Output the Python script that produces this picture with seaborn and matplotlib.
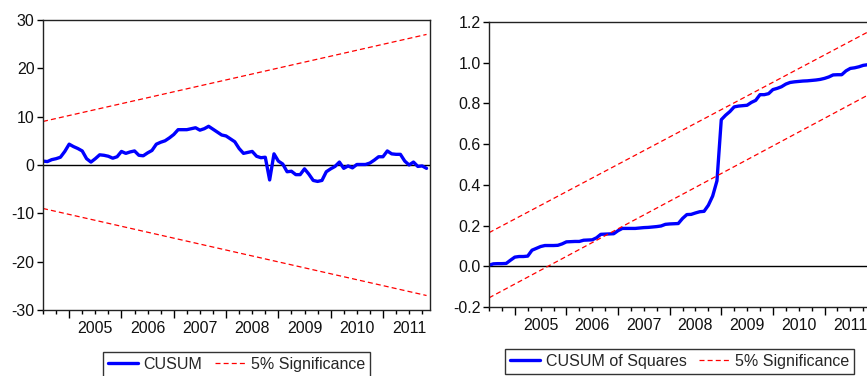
import numpy as np
import pandas as pd
import seaborn as sns
import matplotlib.pyplot as plt
from matplotlib.ticker import MultipleLocator, FuncFormatter, NullFormatter

# monthly observations, 2004M07 .. 2011M11
dates = pd.date_range('2004-07-01', periods=89, freq='MS')

cusum = [0.8, 0.7, 1.1, 1.3, 1.6, 2.8, 4.3, 3.8, 3.4, 2.9,
         1.3, 0.6, 1.3, 2.1, 2.0, 1.8, 1.4, 1.7, 2.8, 2.4,
         2.7, 2.9, 2.0, 1.9, 2.5, 3.0, 4.3, 4.7, 5.0, 5.6,
         6.3, 7.3, 7.3, 7.3, 7.5, 7.7, 7.2, 7.5, 8.0, 7.4,
         6.8, 6.2, 6.0, 5.4, 4.8, 3.4, 2.4, 2.6, 2.8, 1.8,
         1.5, 1.6, -3.1, 2.3, 0.8, 0.2, -1.4, -1.3, -2.0, -2.0,
         -0.8, -1.9, -3.2, -3.4, -3.2, -1.4, -0.8, -0.3, 0.6, -0.7,
         -0.2, -0.6, 0.1, 0.1, 0.1, 0.4, 1.0, 1.7, 1.7, 2.9,
         2.3, 2.2, 2.2, 0.8, 0.0, 0.6, -0.3, -0.2, -0.7]

cusumsq = [0.005, 0.012, 0.013, 0.013, 0.014, 0.030, 0.045, 0.048, 0.048, 0.050,
           0.079, 0.088, 0.097, 0.102, 0.102, 0.102, 0.103, 0.110, 0.120, 0.121,
           0.122, 0.122, 0.128, 0.129, 0.130, 0.140, 0.157, 0.158, 0.159, 0.160,
           0.175, 0.186, 0.186, 0.186, 0.186, 0.188, 0.190, 0.191, 0.193, 0.195,
           0.198, 0.206, 0.208, 0.209, 0.210, 0.235, 0.254, 0.255, 0.262, 0.268,
           0.270, 0.300, 0.345, 0.420, 0.720, 0.742, 0.760, 0.783, 0.787, 0.789,
           0.791, 0.805, 0.815, 0.843, 0.843, 0.848, 0.868, 0.874, 0.882, 0.895,
           0.903, 0.906, 0.908, 0.910, 0.911, 0.913, 0.915, 0.918, 0.923, 0.930,
           0.940, 0.941, 0.941, 0.960, 0.972, 0.975, 0.980, 0.987, 0.990]

# 5% bands: values at first and last observation
cusum_upper = [9.0, 27.0]
cusum_lower = [-9.0, -27.0]
sq_upper = [0.165, 1.15]
sq_lower = [-0.155, 0.84]

sns.set_theme(style="ticks")
plt.rcParams['font.family'] = ['Liberation Sans', 'DejaVu Sans']
plt.rcParams['axes.unicode_minus'] = False

x = dates.year + (dates.month - 1) / 12.0
x_ends = [x[0], x[-1]]

fig = plt.figure(figsize=(8.67, 3.76), dpi=100)
ax1 = fig.add_axes([0.0496, 0.1755, 0.4464, 0.7715])
ax2 = fig.add_axes([0.564, 0.1835, 0.437, 0.758])

FS = 11.5
sig_kw = dict(color='red', lw=0.9, dashes=(4, 2.5))


def year_label(v, pos, start):
    if abs((v % 1) - 0.5) < 1e-6 and v > start + 0.01:
        return str(int(v))
    return ''


def style_axis(ax, start, end):
    ax.set_xlim(start, end)
    ax.xaxis.set_major_locator(MultipleLocator(1.0))
    ax.xaxis.set_major_formatter(NullFormatter())
    ax.xaxis.set_minor_locator(MultipleLocator(0.25))
    ax.xaxis.set_minor_formatter(FuncFormatter(lambda v, p: year_label(v, p, start)))
    ax.tick_params(axis='x', which='major', length=6, width=1, color='black', direction='out')
    ax.tick_params(axis='x', which='minor', length=3, width=1, color='black', direction='out',
                   labelsize=FS, pad=5, labelcolor='#111111')
    ax.tick_params(axis='y', length=4, width=1, color='black', direction='out',
                   labelsize=FS, pad=2, labelcolor='#111111')
    for s in ax.spines.values():
        s.set_color('#222222')
        s.set_linewidth(1)
    ax.set_xlabel('')
    ax.set_ylabel('')


# left: CUSUM
ax1.axhline(0, color='black', lw=1, zorder=1)
sns.lineplot(x=x, y=cusum, ax=ax1, color='#0000ff', lw=2.4, label='CUSUM')
sns.lineplot(x=x_ends, y=cusum_upper, ax=ax1, label='5% Significance', **sig_kw)
sns.lineplot(x=x_ends, y=cusum_lower, ax=ax1, **sig_kw)
ax1.set_ylim(-30, 30)
ax1.set_yticks([-30, -20, -10, 0, 10, 20, 30])
style_axis(ax1, 2004.5, 2011.9)

# right: CUSUM of squares
ax2.axhline(0, color='black', lw=1, zorder=1)
sns.lineplot(x=x, y=cusumsq, ax=ax2, color='#0000ff', lw=2.4, label='CUSUM of Squares')
sns.lineplot(x=x_ends, y=sq_upper, ax=ax2, label='5% Significance', **sig_kw)
sns.lineplot(x=x_ends, y=sq_lower, ax=ax2, **sig_kw)
ax2.set_ylim(-0.2, 1.2)
ax2.set_yticks(np.arange(-0.2, 1.21, 0.2))
ax2.yaxis.set_major_formatter(FuncFormatter(lambda v, p: f'{v:.1f}'))
style_axis(ax2, 2004.5, 2011.84)
ax2.spines['right'].set_visible(False)

for ax, cx, ty in [(ax1, 0.2728, 0.064), (ax2, 0.784, 0.0718)]:
    ax.get_legend().remove()
    h, l = ax.get_legend_handles_labels()
    leg = fig.legend(h, l, loc='upper center', bbox_to_anchor=(cx, ty),
                     bbox_transform=fig.transFigure, ncol=2, fontsize=FS,
                     frameon=True, fancybox=False, edgecolor='black',
                     handlelength=1.9, handletextpad=0.35, columnspacing=0.8,
                     borderpad=0.3, borderaxespad=0)
    leg.get_frame().set_linewidth(1)

fig.savefig('out.png', dpi=100)
